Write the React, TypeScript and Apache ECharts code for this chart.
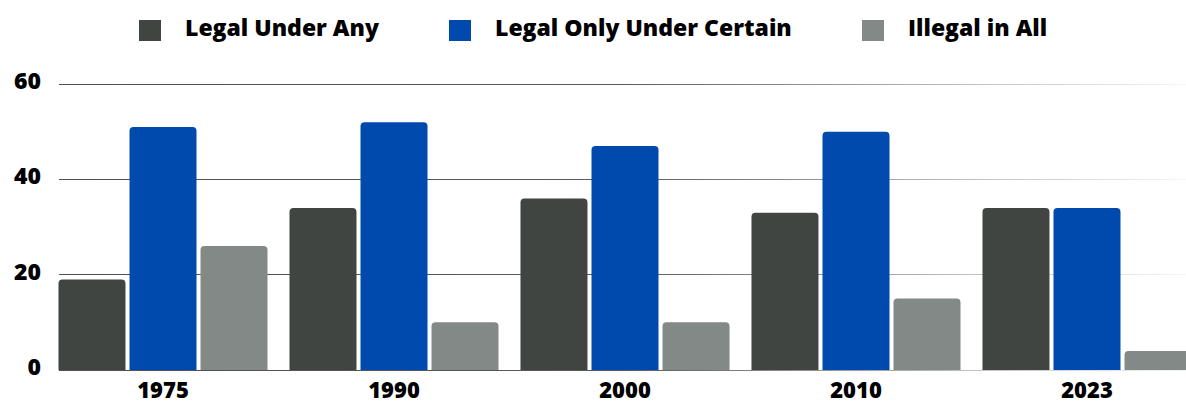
import React, { useEffect, useRef } from "react";
import * as echarts from "echarts";

const categories = ["1975", "1990", "2000", "2010", "2023"];
const legalUnderAny = [19, 34, 36, 33, 34];
const legalOnlyUnderCertain = [51, 52, 47, 50, 34];
const illegalInAll = [26, 10, 10, 15, 4];
const seriesNames = ["Legal Under Any", "Legal Only Under Certain", "Illegal in All"];
const yMin = 0;
const yMax = 60;
const yInterval = 20;

const FONT = "'Open Sans', 'Noto Sans', sans-serif";
const COLORS = ["#414542", "#004AAD", "#838987"];
const CHART_W = 1210;

export default function App() {
  const ref = useRef<HTMLDivElement>(null);

  useEffect(() => {
    document.body.style.margin = "0";
    if (!ref.current) return;
    const chart = echarts.init(ref.current, null, { renderer: "svg" });

    const gridGradient = new echarts.graphic.LinearGradient(
      59, 0, 1186, 0,
      [
        { offset: 0, color: "#505050" },
        { offset: 0.5, color: "#5a5a5a" },
        { offset: 0.8, color: "#bdbdbd" },
        { offset: 1, color: "#f6f6f6" },
      ],
      true
    );

    const textBase = {
      fontFamily: FONT,
      fontWeight: 800,
      fontSize: 23,
      color: "#000",
    };

    const legendBase = {
      top: 15,
      padding: 0,
      itemWidth: 22,
      itemHeight: 21,
      icon: "rect",
      selectedMode: false,
      formatter: "{t|{name}}",
      textStyle: {
        ...textBase,
        rich: {
          t: { ...textBase, padding: [0, 0, 8, 19] },
        },
      },
    };
    const legendLefts = [139, 449, 862];

    const seriesData = [legalUnderAny, legalOnlyUnderCertain, illegalInAll];

    chart.setOption({
      animation: false,
      legend: seriesNames.map((n, i) => ({
        ...legendBase,
        data: [n],
        left: legendLefts[i],
      })),
      grid: [
        { left: 47.5, top: 84, width: 1155, height: 286 },
        { left: 59, top: 84, right: CHART_W - 1186, height: 286 },
      ],
      xAxis: [
        {
          type: "category",
          gridIndex: 0,
          data: categories,
          axisLine: { show: false },
          axisTick: { show: false },
          splitLine: { show: false },
          axisLabel: {
            ...textBase,
            fontSize: 22,
            lineHeight: 18,
            margin: 10,
          },
        },
        { type: "value", gridIndex: 1, show: false, min: 0, max: 1 },
      ],
      yAxis: [
        { type: "value", gridIndex: 0, min: yMin, max: yMax, interval: yInterval, show: false },
        {
          type: "value",
          gridIndex: 1,
          min: yMin,
          max: yMax,
          interval: yInterval,
          axisLine: { show: false },
          axisTick: { show: false },
          splitLine: { show: true, lineStyle: { color: gridGradient, width: 1 } },
          axisLabel: {
            ...textBase,
            margin: 18,
            verticalAlign: "bottom",
            lineHeight: 8,
          },
        },
      ],
      series: seriesNames.map((n, i) => ({
        name: n,
        type: "bar",
        xAxisIndex: 0,
        yAxisIndex: 0,
        data: seriesData[i],
        barWidth: 67,
        barGap: "6%",
        itemStyle: { color: COLORS[i], borderRadius: [4, 4, 0, 0] },
      })),
    });

    return () => chart.dispose();
  }, []);

  return (
    <div style={{ position: "absolute", left: 0, top: 0, width: 1186, height: 404, overflow: "hidden" }}>
      <div ref={ref} style={{ width: CHART_W, height: 404 }} />
    </div>
  );
}
